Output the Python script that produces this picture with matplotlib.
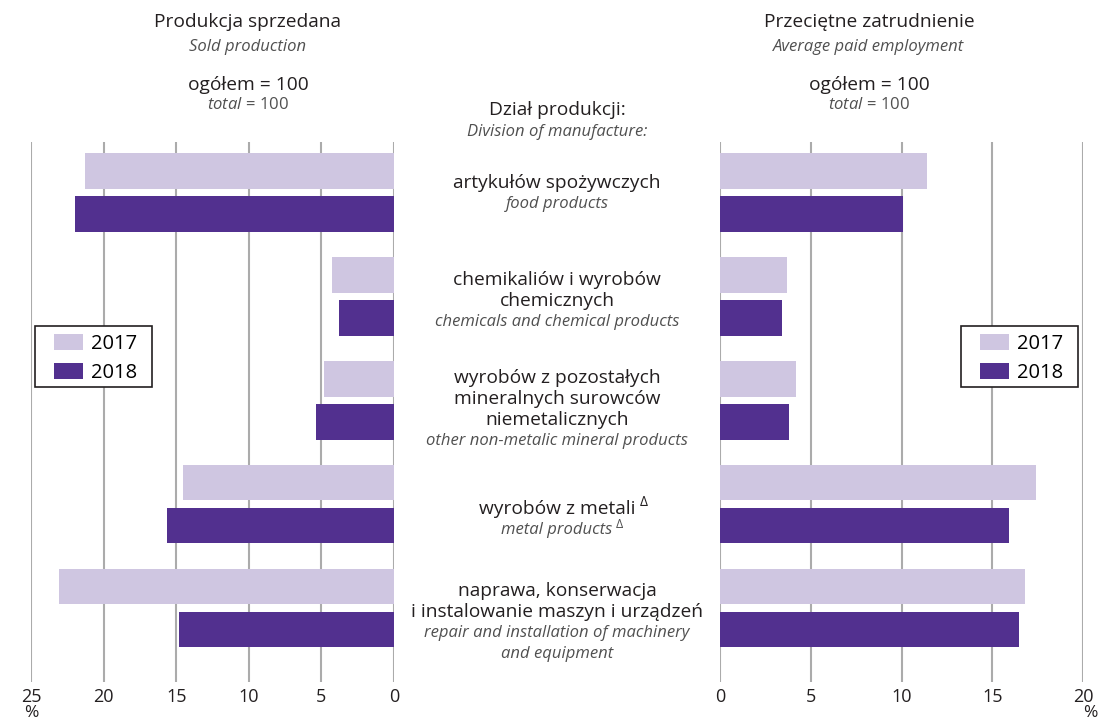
import matplotlib
matplotlib.use("Agg")
import matplotlib.pyplot as plt
from matplotlib.patches import Patch, Rectangle
import numpy as np

plt.rcParams['font.family'] = ['Open Sans', 'DejaVu Sans']
plt.rcParams['mathtext.fontset'] = 'custom'
plt.rcParams['mathtext.rm'] = 'Open Sans'
plt.rcParams['mathtext.it'] = 'Open Sans:italic'

# ---- data ----
categories_pl = ["artykułów spożywczych",
                 "chemikaliów i wyrobów\nchemicznych",
                 "wyrobów z pozostałych\nmineralnych surowców\nniemetalicznych",
                 "wyrobów z metali",
                 "naprawa, konserwacja\ni instalowanie maszyn i urządzeń"]
categories_en = ["food products",
                 "chemicals and chemical products",
                 "other non-metalic mineral products",
                 "metal products",
                 "repair and installation of machinery\nand equipment"]
years = ["2017", "2018"]
sold_2017 = [21.3, 4.3, 4.8, 14.5, 23.1]
sold_2018 = [22.0, 3.8, 5.4, 15.6, 14.8]
empl_2017 = [11.4, 3.7, 4.2, 17.4, 16.8]
empl_2018 = [10.1, 3.4, 3.8, 15.9, 16.5]
left_ticks = [25, 20, 15, 10, 5, 0]
right_ticks = [0, 5, 10, 15, 20]

C17 = "#cfc6e1"
C18 = "#52308f"
GRID = "#ababab"
TXT = "#231f20"
GRAY = "#505050"

W, H = 1103, 722
fig = plt.figure(figsize=(W / 100, H / 100), dpi=100)

def fx(x):
    return x / W

def fy(y):
    return 1 - y / H

ax_top, ax_bot = 142, 682
axL = fig.add_axes([fx(31), fy(ax_bot), fx(394 - 31), (ax_bot - ax_top) / H])
axR = fig.add_axes([fx(720), fy(ax_bot), fx(1083 - 720), (ax_bot - ax_top) / H])

idx = np.arange(len(categories_pl))
off = 0.207
h = 0.34

for ax, v17, v18, ticks, lim, box_x in [(axL, sold_2017, sold_2018, left_ticks, (25, 0), 35),
                                        (axR, empl_2017, empl_2018, right_ticks, (0, 20), 961)]:
    ax.barh(idx - off, v17, height=h, color=C17, zorder=2)
    ax.barh(idx + off, v18, height=h, color=C18, zorder=2)
    ax.set_xlim(*lim)
    ax.set_ylim(4.71, -0.486)
    ax.set_xticks(ticks)
    ax.set_xticklabels([str(t) for t in ticks], fontsize=13, color=TXT)
    ax.tick_params(axis='x', length=0, pad=4)
    ax.set_yticks([])
    for s in ax.spines.values():
        s.set_visible(False)
    ax.grid(axis='x', color=GRID, lw=1.5, zorder=0)
    ax.set_facecolor('none')
    # legend frame
    fig.add_artist(Rectangle((fx(box_x), fy(387)), fx(117), 61 / H, transform=fig.transFigure,
                             facecolor='white', edgecolor='#231f20', lw=1.2, zorder=4))
    handles = [Patch(facecolor=C17, edgecolor='none', label=years[0]),
               Patch(facecolor=C18, edgecolor='none', label=years[1])]
    leg = fig.legend(handles=handles, loc='upper left',
                     bbox_to_anchor=(fx(box_x + 19), fy(334)),
                     frameon=False, fontsize=14.5,
                     handlelength=1.44, handleheight=0.84, borderpad=0, labelspacing=0.45,
                     handletextpad=0.4, borderaxespad=0)
    leg.set_zorder(6)

# headings
fs_main = 13.8
fs_it = 12
for cx, t1, t2 in [(248, "Produkcja sprzedana", "Sold production"),
                   (869, "Przeciętne zatrudnienie", "Average paid employment")]:
    fig.text(fx(cx), fy(22), t1, ha='center', va='center', fontsize=fs_main, color=TXT)
    fig.text(fx(cx), fy(47), t2, ha='center', va='center', fontsize=fs_it, color=GRAY, style='italic')
    fig.text(fx(cx), fy(85), "ogółem = 100", ha='center', va='center', fontsize=fs_main, color=TXT)
    fig.text(fx(cx), fy(105), r"$\mathit{total}$ = 100", ha='center', va='center', fontsize=fs_it, color=GRAY)

cxm = 557
fig.text(fx(cxm), fy(110), "Dział produkcji:", ha='center', va='center', fontsize=fs_main, color=TXT)
fig.text(fx(cxm), fy(132), "Division of manufacture:", ha='center', va='center', fontsize=fs_it, color=GRAY, style='italic')

# category labels
lh = 21
pl_tops = [183, 280, 378, 509, 591]
for i, (pl, en) in enumerate(zip(categories_pl, categories_en)):
    y = pl_tops[i]
    last_pl = last_en = None
    for ln in pl.split("\n"):
        last_pl = fig.text(fx(cxm), fy(y), ln, ha='center', va='center', fontsize=fs_main, color=TXT)
        y += lh
    for ln in en.split("\n"):
        last_en = fig.text(fx(cxm), fy(y), ln, ha='center', va='center', fontsize=fs_it, color=GRAY, style='italic')
        y += lh
    if i == 3:
        axL.annotate("Δ", xy=(1, 0.85), xycoords=last_pl, xytext=(3, 0), textcoords='offset points',
                     ha='left', va='center', fontsize=10, color=TXT, annotation_clip=False)
        axL.annotate("Δ", xy=(1, 0.85), xycoords=last_en, xytext=(2, 0), textcoords='offset points',
                     ha='left', va='center', fontsize=9, color=GRAY, annotation_clip=False)

fig.text(fx(31), fy(713), "%", ha='center', va='center', fontsize=12.5, color=TXT)
fig.text(fx(1090), fy(713), "%", ha='center', va='center', fontsize=12.5, color=TXT)

fig.savefig("out.png", dpi=100)
